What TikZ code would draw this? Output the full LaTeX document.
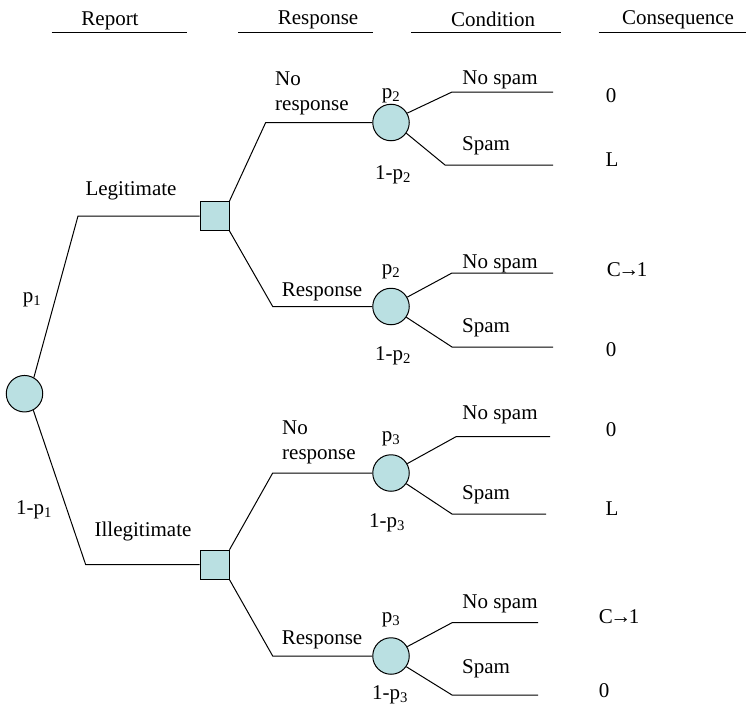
\documentclass[tikz,border=0pt]{standalone}
\usepackage{fontspec}
\setmainfont{Liberation Serif}
\definecolor{nodefill}{RGB}{186,224,226}
\newcommand{\CtoOne}{C\kern-2.5pt→\kern-2.5pt1}
\begin{document}
\begin{tikzpicture}[x=1pt,y=-1pt,
  every node/.style={font=\fontsize{21}{25}\selectfont, inner sep=0pt},
  chance/.style={circle, draw, fill=nodefill, minimum size=36.5pt, line width=1pt},
  choice/.style={rectangle, draw, fill=nodefill, minimum size=29pt, line width=1pt},
  branch/.style={line width=1pt},
  rule/.style={line width=1pt}]
\useasboundingbox (0,0) rectangle (746,709);

% header rules
\coordinate (r1a) at (51.7,32.3); \coordinate (r1b) at (186.7,32.3);
\coordinate (r2a) at (238,32.3);  \coordinate (r2b) at (373,32.3);
\coordinate (r3a) at (411,32.3);  \coordinate (r3b) at (561,32.3);
\coordinate (r4a) at (598.7,32.3); \coordinate (r4b) at (746,32.3);
\draw[rule] (r1a) -- (r1b);
\draw[rule] (r2a) -- (r2b);
\draw[rule] (r3a) -- (r3b);
\draw[rule] (r4a) -- (r4b);

% bend / end coordinates
\coordinate (k1) at (78,216);
\coordinate (k2) at (85.7,564.7);
\coordinate (a1) at (265.7,122.5);
\coordinate (a2) at (272.7,306.5);
\coordinate (a3) at (272.7,473);
\coordinate (a4) at (272.7,656);

\coordinate (n1b) at (452,92);    \coordinate (n1e) at (553,92);
\coordinate (m1b) at (445,165);   \coordinate (m1e) at (553,165);
\coordinate (n2b) at (452,273);   \coordinate (n2e) at (553,273);
\coordinate (m2b) at (452,347);   \coordinate (m2e) at (553,347);
\coordinate (n3b) at (456,436.7); \coordinate (n3e) at (550,436.7);
\coordinate (m3b) at (452,514);   \coordinate (m3e) at (546,514);
\coordinate (n4b) at (452,622.7); \coordinate (n4e) at (538,622.7);
\coordinate (m4b) at (452,695);   \coordinate (m4e) at (538,695);

% nodes
\node[chance] (root) at (24.5,393.7) {};
\node[choice] (s1) at (214.5,216) {};
\node[choice] (s2) at (214.5,564.7) {};
\node[chance] (c1) at (391,122.5) {};
\node[chance] (c2) at (391,306.5) {};
\node[chance] (c3) at (391,473) {};
\node[chance] (c4) at (391,656) {};

% connectors
\draw[branch] (root.60) -- (k1) -- (s1.west);
\draw[branch] (root.-62) -- (k2) -- (s2.west);
\draw[branch] (s1.north east) -- (a1) -- (c1.west);
\draw[branch] (s1.south east) -- (a2) -- (c2.west);
\draw[branch] (s2.north east) -- (a3) -- (c3.west);
\draw[branch] (s2.south east) -- (a4) -- (c4.west);
\foreach \c/\i in {c1/1,c2/2,c3/3,c4/4}{
  \draw[branch] (\c.30) -- (n\i b) -- (n\i e);
  \draw[branch] (\c.-35) -- (m\i b) -- (m\i e);
}

\begin{scope}[yshift=-2.5pt]
% header
\node (hReport) at (110,18) {Report};
\node (hResponse) at (318,17) {Response};
\node (hCondition) at (493,17) {Condition};
\node (hConsequence) at (678,17) {Consequence};

% left labels
\node (lp1) at (32,297) {p\textsubscript{1}};
\node (lq1) at (34,507) {1-p\textsubscript{1}};
\node (lLeg) at (131,188) {Legitimate};
\node (lIll) at (143,529) {Illegitimate};
\node[anchor=west, align=left] (lNR1) at (275,90.5) {No\\response};
\node[anchor=west, align=left] (lNR2) at (282,439.5) {No\\response};
\node (lR1) at (322,289) {Response};
\node (lR2) at (322,637) {Response};

% probabilities
\node (p2a) at (391,93) {p\textsubscript{2}};
\node (q2a) at (393,172) {1-p\textsubscript{2}};
\node (p2b) at (391,269) {p\textsubscript{2}};
\node (q2b) at (393,353) {1-p\textsubscript{2}};
\node (p3a) at (391,436) {p\textsubscript{3}};
\node (q3a) at (387,520) {1-p\textsubscript{3}};
\node (p3b) at (391,617) {p\textsubscript{3}};
\node (q3b) at (390,692) {1-p\textsubscript{3}};

% condition labels
\node (ns1) at (500,77) {No spam};
\node (sp1) at (486,143) {Spam};
\node (ns2) at (500,261) {No spam};
\node (sp2) at (486,325) {Spam};
\node (ns3) at (500,412) {No spam};
\node (sp3) at (486,492) {Spam};
\node (ns4) at (500,601) {No spam};
\node (sp4) at (486,666) {Spam};

% consequences
\node (o1) at (611,93) {0};
\node (o2) at (612,157) {L};
\node (o3) at (627,267) {\CtoOne};
\node (o4) at (611,347) {0};
\node (o5) at (611,427) {0};
\node (o6) at (612,506) {L};
\node (o7) at (619,614) {\CtoOne};
\node (o8) at (604,688) {0};
\end{scope}
\end{tikzpicture}
\end{document}
